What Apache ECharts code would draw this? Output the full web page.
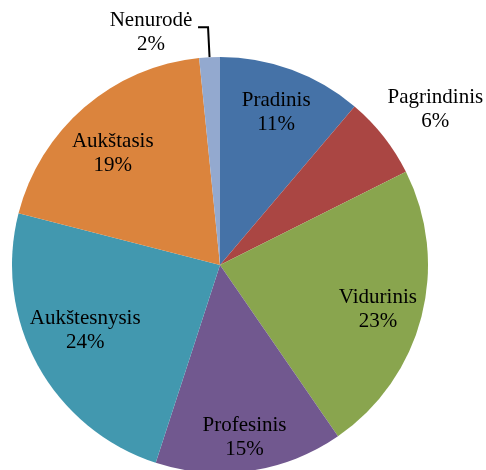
<!DOCTYPE html>
<html>
<head>
<meta charset="utf-8">
<script src="https://cdn.jsdelivr.net/npm/echarts@6/dist/echarts.min.js"></script>
<style>
  html, body { margin: 0; padding: 0; background: #fff; }
  #chart { width: 486px; height: 470px; }
</style>
</head>
<body>
<div id="chart"></div>
<script>
// išsilavinimas (pie slices, clockwise from top)
const categories = ['Pradinis', 'Pagrindinis', 'Vidurinis', 'Profesinis', 'Aukštesnysis', 'Aukštasis', 'Nenurodė'];
const values = [11.2, 6.4, 22.8, 14.6, 24.0, 19.4, 1.6];
const colors = ['#4572A7', '#AA4643', '#89A54E', '#71588F', '#4298AF', '#DB843D', '#93A9CF'];

const chart = echarts.init(document.getElementById('chart'));

const font = {
  fontFamily: 'Liberation Serif',
  fontSize: 21,
  lineHeight: 24,
  color: '#000',
};

// main pie: slices + Nenurodė label with leader line
const mainData = categories.map((name, i) => {
  const item = { name: name, value: values[i], itemStyle: { color: colors[i] } };
  if (name === 'Nenurodė') {
    item.label = { show: true, offset: [0, 5] };
    item.labelLine = { show: true, length: 30, length2: 10 };
  }
  return item;
});

// transparent overlay only for the inside labels (puts them further out)
const labelOffsets = {
  'Vidurinis': [0, 4],
  'Profesinis': [1, 11],
  'Aukštesnysis': [8, -13],
  'Aukštasis': [-1, 12],
};
const overlayData = categories.map((name, i) => ({
  name: name,
  value: values[i],
  label: {
    show: name !== 'Pagrindinis' && name !== 'Nenurodė',
    offset: labelOffsets[name] || [0, 0],
  },
}));

// second overlay ring just for the Pagrindinis label outside the pie
const outerData = categories.map((name, i) => ({
  name: name,
  value: values[i],
  label: { show: name === 'Pagrindinis', offset: [18, 0] },
}));

const option = {
  animation: false,
  series: [
    {
      type: 'pie',
      center: [220, 265],
      radius: 208,
      startAngle: 90,
      clockwise: true,
      percentPrecision: 0,
      silent: true,
      itemStyle: { borderWidth: 0 },
      label: {
        show: false,
        position: 'outside',
        formatter: '{c|{b}}\n{c|{d}%}',
        rich: {
          c: Object.assign({ width: 84, align: 'center' }, font),
        },
      },
      labelLine: {
        lineStyle: { color: '#000', width: 2 },
      },
      data: mainData,
    },
    {
      type: 'pie',
      center: [220, 265],
      radius: [114, 206],
      startAngle: 90,
      clockwise: true,
      percentPrecision: 0,
      silent: true,
      itemStyle: { color: 'transparent', borderWidth: 0 },
      label: Object.assign({
        position: 'inside',
        formatter: '{b}\n{d}%',
      }, font),
      labelLine: { show: false },
      data: overlayData,
    },
    {
      type: 'pie',
      center: [220, 265],
      radius: [220, 276],
      startAngle: 90,
      clockwise: true,
      percentPrecision: 0,
      silent: true,
      itemStyle: { color: 'transparent', borderWidth: 0 },
      label: Object.assign({
        position: 'inside',
        formatter: '{b}\n{d}%',
      }, font),
      labelLine: { show: false },
      data: outerData,
    },
  ],
};

chart.setOption(option);
</script>
</body>
</html>
